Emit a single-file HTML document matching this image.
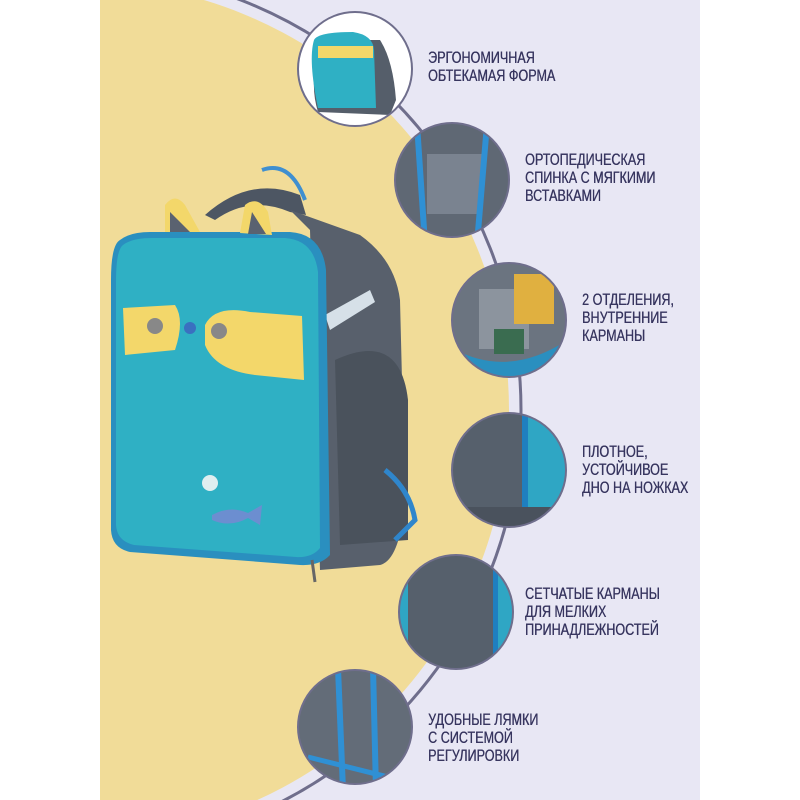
<!DOCTYPE html>
<html><head><meta charset="utf-8"><style>
html,body{margin:0;padding:0;background:#fff;overflow:hidden;width:800px;height:800px}
.w{position:relative;width:800px;height:800px;overflow:hidden}
.t{position:absolute;font-family:"Liberation Sans",sans-serif;color:#37355f;font-size:17px;line-height:18px;transform:scaleX(0.74);transform-origin:0 0;white-space:nowrap;text-shadow:0.4px 0 0 #37355f}
</style></head><body><div class="w">
<svg width="800" height="800" style="position:absolute;left:0;top:0">
<defs><clipPath id="pg"><rect x="100" y="0" width="600" height="800"/></clipPath>
<clipPath id="c1"><circle cx="355" cy="69" r="57"/></clipPath>
<clipPath id="c2"><circle cx="452" cy="180" r="57"/></clipPath>
<clipPath id="c3"><circle cx="509" cy="320" r="57"/></clipPath>
<clipPath id="c4"><circle cx="509" cy="470" r="57"/></clipPath>
<clipPath id="c5"><circle cx="456" cy="612" r="57"/></clipPath>
<clipPath id="c6"><circle cx="355" cy="727" r="57"/></clipPath>
</defs>
<g clip-path="url(#pg)">
<rect x="100" y="0" width="600" height="800" fill="#e8e7f4"/>
<circle cx="81" cy="410" r="428" fill="#f1dc98"/>
<circle cx="81" cy="410" r="440" fill="none" stroke="#6f6e8c" stroke-width="3"/>
</g>
<!-- main backpack -->
<path d="M205 215 Q250 175 300 195 L306 215 L290 212 Q250 195 215 220 Z" fill="#4d5663"/>
<path d="M262 170 Q290 160 305 200" fill="none" stroke="#3f8fd0" stroke-width="4"/>
<path d="M290 210 L360 235 Q395 260 400 300 L405 500 Q400 560 380 565 L320 570 L310 230 Z" fill="#58606c"/>
<path d="M335 360 Q400 330 408 400 L408 540 L340 545 Z" fill="#4a525c"/>
<path d="M325 315 L370 290 L375 302 L330 330 Z" fill="#d6e0e8"/>
<path d="M385 470 Q410 490 415 520 L395 540" fill="none" stroke="#2f86cc" stroke-width="5"/>
<path d="M120 240 Q130 232 150 232 L290 232 Q322 234 326 270 L330 555 Q320 566 300 565 L130 552 Q112 548 111 530 L111 280 Q111 245 120 240 Z" fill="#2a8fbf"/>
<path d="M123 245 Q132 238 152 238 L285 238 Q314 240 318 272 L320 548 Q312 558 296 557 L134 545 Q117 541 116 525 L116 282 Q116 250 123 245 Z" fill="#2fb0c4"/>
<path d="M165 205 Q175 192 185 205 L200 232 L165 232 Z" fill="#f3d76a"/><path d="M170 212 L190 232 L170 232Z" fill="#5a6270"/>
<path d="M245 205 Q258 195 268 212 L272 235 L240 233 Z" fill="#f3d76a"/><path d="M252 212 L266 234 L248 234Z" fill="#5a6270"/>
<path d="M123 308 L175 305 Q185 320 175 350 L125 355 Z" fill="#f3d76a"/>
<path d="M205 325 Q215 305 250 312 L302 316 L304 380 L255 375 Q215 370 205 345 Z" fill="#f3d76a"/>
<circle cx="219" cy="331" r="8" fill="#888"/><circle cx="155" cy="326" r="8" fill="#888"/>
<circle cx="190" cy="328" r="6" fill="#3a70c0"/>
<circle cx="210" cy="483" r="8" fill="#dfeef0"/>
<path d="M212 515 Q230 505 248 513 L262 505 L260 525 L248 518 Q230 528 212 520Z" fill="#6c8ed0"/>
<path d="M312 560 L315 582" stroke="#666" stroke-width="3"/>
<!-- detail circles -->
<g clip-path="url(#c1)"><rect x="290" y="0" width="140" height="140" fill="#fff"/>
<path d="M322 40 L380 40 Q393 60 396 100 L390 115 L318 112 Q308 80 322 40Z" fill="#555e6a"/>
<path d="M314 40 Q318 32 353 32 Q373 35 374 50 L376 108 L318 108 Q308 60 314 40Z" fill="#2fb0c4"/>
<rect x="318" y="46" width="55" height="12" fill="#f3d76a"/></g>
<circle cx="355" cy="69" r="57" fill="none" stroke="#6f6e8c" stroke-width="2"/>
<g clip-path="url(#c2)"><rect x="392" y="120" width="125" height="125" fill="#5f6874"/>
<rect x="427" y="154" width="55" height="60" fill="#7a8390"/>
<path d="M417 124 L425 244 M487 124 L477 244" stroke="#2f90d4" stroke-width="6"/></g>
<circle cx="452" cy="180" r="57" fill="none" stroke="#6f6e8c" stroke-width="2"/>
<g clip-path="url(#c3)"><rect x="449" y="260" width="125" height="125" fill="#6b7480"/>
<rect x="479" y="289" width="50" height="60" fill="#8c949e"/>
<rect x="514" y="274" width="40" height="50" fill="#e0b040"/>
<rect x="494" y="329" width="30" height="25" fill="#3a6c50"/>
<path d="M454 349 Q509 379 569 339 L569 385 L454 385Z" fill="#2a8fbf"/></g>
<circle cx="509" cy="320" r="57" fill="none" stroke="#6f6e8c" stroke-width="2"/>
<g clip-path="url(#c4)"><rect x="449" y="410" width="125" height="125" fill="#56606c"/>
<rect x="524" y="410" width="50" height="125" fill="#2fa6c4"/><rect x="522" y="410" width="6" height="125" fill="#1f7fc0"/>
<rect x="449" y="507" width="125" height="30" fill="#4a525d"/></g>
<circle cx="509" cy="470" r="57" fill="none" stroke="#6f6e8c" stroke-width="2"/>
<g clip-path="url(#c5)"><rect x="396" y="552" width="125" height="125" fill="#2fa6c4"/>
<rect x="408" y="552" width="85" height="125" fill="#56606c"/><rect x="493" y="552" width="5" height="125" fill="#1f7fc0"/></g>
<circle cx="456" cy="612" r="57" fill="none" stroke="#6f6e8c" stroke-width="2"/>
<g clip-path="url(#c6)"><rect x="296" y="668" width="125" height="125" fill="#636c78"/>
<path d="M338 668 L343 790 M373 668 L376 790" stroke="#2f90d4" stroke-width="6"/>
<path d="M308 757 L408 782" stroke="#2f90d4" stroke-width="5"/></g>
<circle cx="355" cy="727" r="57" fill="none" stroke="#6f6e8c" stroke-width="2"/>
</svg>
<div class="t" style="left:428px;top:49px">ЭРГОНОМИЧНАЯ<br>ОБТЕКАМАЯ ФОРМА</div>
<div class="t" style="left:525px;top:151px">ОРТОПЕДИЧЕСКАЯ<br>СПИНКА С МЯГКИМИ<br>ВСТАВКАМИ</div>
<div class="t" style="left:582px;top:291px">2 ОТДЕЛЕНИЯ,<br>ВНУТРЕННИЕ<br>КАРМАНЫ</div>
<div class="t" style="left:582px;top:443px">ПЛОТНОЕ,<br>УСТОЙЧИВОЕ<br>ДНО НА НОЖКАХ</div>
<div class="t" style="left:525px;top:585px">СЕТЧАТЫЕ КАРМАНЫ<br>ДЛЯ МЕЛКИХ<br>ПРИНАДЛЕЖНОСТЕЙ</div>
<div class="t" style="left:428px;top:711px">УДОБНЫЕ ЛЯМКИ<br>С СИСТЕМОЙ<br>РЕГУЛИРОВКИ</div>
</div></body></html>
